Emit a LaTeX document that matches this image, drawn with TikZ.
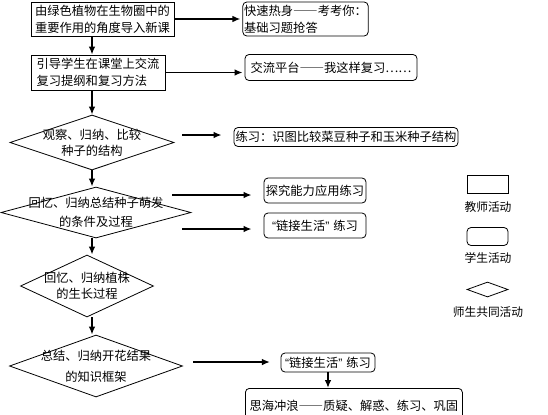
\documentclass[tikz,border=0pt]{standalone}
\usepackage{fontspec}
\setmainfont[RawFeature=+fwid]{Noto Sans CJK SC}
\newfontfamily\qfont{Liberation Sans}
\newcommand{\oq}{{\qfont “}}
\newcommand{\cq}{{\qfont ”}}
\usetikzlibrary{shapes.geometric,arrows.meta}

\begin{document}
\begin{tikzpicture}[
            x=0.75pt, y=-0.75pt,
            tb/.style={rectangle, draw, line width=0.6pt, align=left, inner sep=1pt},
            sb/.style={tb, rounded corners=3pt},
            dm/.style={diamond, draw, line width=0.6pt, inner sep=0pt},
            lg/.style={font={\fontsize{8.8pt}{10pt}\selectfont}},
            arr/.style={->, line width=1.4pt},
            >={Latex[length=6pt,width=5pt]},
            font={\fontsize{9.2pt}{12.75pt}\selectfont}
        ]
        \useasboundingbox (0,0) rectangle (548,414);
        \clip (0,0) rectangle (548,414);
        % left column
        \node[tb, minimum width=107.25pt, minimum height=25.5pt] (b1) at (102.5,19)
            {由绿色植物在生物圈中的\\重要作用的角度导入新课};
        \node[tb, minimum width=100.5pt, minimum height=26.25pt] (b2) at (98,72.5)
            {引导学生在课堂上交流\\复习提纲和复习方法};
        \node[dm, minimum width=123pt, minimum height=41.25pt,
              label={[align=center]center:观察、归纳、比较\\[-0.75pt]种子的结构}] (d1) at (92,142.5) {};
        \node[dm, minimum width=142.5pt, minimum height=38.25pt,
              label={[align=center]center:回忆、归纳总结种子萌发\\[1.5pt]的条件及过程}] (d2) at (96,212.5) {};
        \node[dm, minimum width=99.75pt, minimum height=46.5pt,
              label={[align=center]center:回忆、归纳植株\\[-0.75pt]的生长过程}] (d3) at (87,286) {};
        \node[dm, minimum width=129.75pt, minimum height=46.5pt,
              label={[align=center]center:总结、归纳开花结果\\[3pt]的知识框架}] (d4) at (96,366) {};
        % right column
        \node[sb, minimum width=90.75pt, minimum height=25.5pt] (r1) at (305.5,19)
            {快速热身——考考你：\\基础习题抢答};
        \node[sb, minimum width=129pt, minimum height=19.5pt] (r2) at (331,67.5)
            {交流平台——我这样复习⋯⋯};
        \node[sb, minimum width=168pt, minimum height=14.25pt, inner xsep=0.5pt] (r3) at (346,137)
            {练习：识图比较菜豆种子和玉米种子结构};
        \node[sb, minimum width=76.5pt, minimum height=18.75pt, inner xsep=0.5pt] (r4) at (315,190.5)
            {探究能力应用练习};
        \node[sb, minimum width=76.5pt, minimum height=18.75pt, inner xsep=0.5pt] (r5) at (315,225.5)
            {\oq 链接生活\cq\hspace{3pt}练习};
        \node[sb, minimum width=70.5pt, minimum height=14.25pt, inner xsep=0.5pt] (r6) at (328,362.5)
            {\oq 链接生活\cq\hspace{3pt}练习};
        \node[sb, minimum width=162.75pt, minimum height=25.5pt, anchor=north west] (r7) at (245,388)
            {思海冲浪——质疑、解惑、练习、巩固};
        % legend
        \node[tb, minimum width=30.75pt, minimum height=13.5pt] (l1) at (487.5,184) {};
        \node[lg] (t1) at (488,207) {教师活动};
        \node[sb, minimum width=30.75pt, minimum height=13.5pt] (l2) at (487.5,236.5) {};
        \node[lg] (t2) at (488,258) {学生活动};
        \node[dm, minimum width=30.75pt, minimum height=11.25pt] (l3) at (487.5,289.5) {};
        \node[lg] (t3) at (488,312) {师生共同活动};
        % arrow starts
        \coordinate (c1) at (182,135);
        \coordinate (c2) at (172,195);
        \coordinate (c3) at (182,229);
        \coordinate (c4) at (193,362);
        % arrows
        \draw[arr, shorten >=1.5pt] (b1.east) -- (b1.east -| r1.west);
        \draw[arr, shorten >=1.5pt] (b2.east) -- (b2.east -| r2.west);
        \draw[arr, shorten >=9pt] (c1) -- (c1 -| r3.west);
        \draw[arr, shorten >=9pt] (c2) -- (c2 -| r4.west);
        \draw[arr, shorten >=9pt] (c3) -- (c3 -| r5.west);
        \draw[arr, shorten >=8pt] (c4) -- (c4 -| r6.west);
        \draw[arr] (b1.south -| d1.north) -- (b2.north -| d1.north);
        \draw[arr] (b2.south -| d1.north) -- (d1.north);
        \draw[arr] (d1.south) -- (d1.south |- d2.north);
        \draw[arr] (d1.south |- d2.south) -- (d1.south |- d3.north);
        \draw[arr] (d1.south |- d3.south) -- (d1.south |- d4.north);
        \draw[arr] (r6.south) -- (r6.south |- r7.north);
\end{tikzpicture}
\end{document}
